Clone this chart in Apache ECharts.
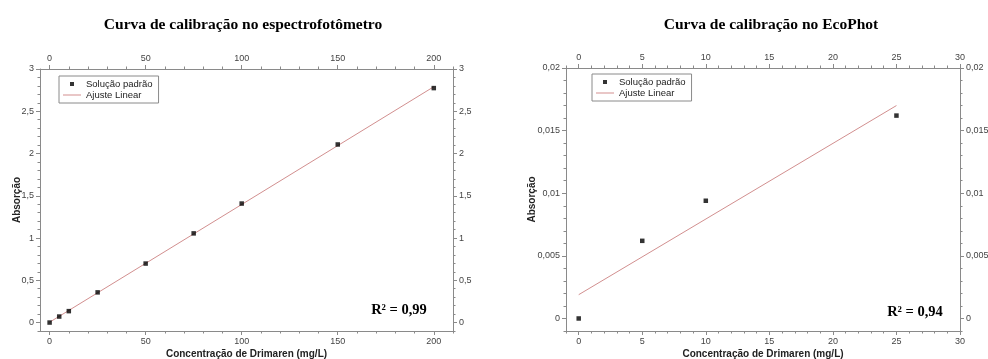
<!DOCTYPE html>
<html>
<head>
<meta charset="utf-8">
<script src="https://cdn.jsdelivr.net/npm/echarts@6/dist/echarts.min.js"></script>
<style>
  html, body { margin: 0; padding: 0; background: #fff; }
  #chart { width: 988px; height: 359px; }
</style>
</head>
<body>
<div id="chart"></div>
<script>
// Curva no espectrofotômetro
var specX = [0, 5, 10, 25, 50, 75, 100, 150, 200];
var specY = [0, 0.071, 0.135, 0.357, 0.698, 1.055, 1.408, 2.107, 2.774];
var specFit = [[0, 0.004], [200, 2.79]];
var specXTicks = [0, 50, 100, 150, 200];
var specYTicks = [0, 0.5, 1, 1.5, 2, 2.5, 3];

// Curva no EcoPhot
var ecoX = [0, 5, 10, 25];
var ecoY = [0, 0.0062, 0.0094, 0.0162];
var ecoFit = [[0, 0.0019], [25, 0.0170]];
var ecoXTicks = [0, 5, 10, 15, 20, 25, 30];
var ecoYTicks = [0, 0.005, 0.01, 0.015, 0.02];

var axisColor = "#8a8a8a";
var labelColor = "#444";
var sansFont = "Liberation Sans";

function stepTicks(from, to, step) {
  var out = [];
  var n = Math.round((to - from) / step);
  for (var i = 0; i <= n; i++) {
    out.push(Math.round((from + i * step) * 1e6) / 1e6);
  }
  return out;
}

function fmt(v) {
  return String(v).replace(".", ",");
}

// eixo com ticks principais e rótulos
function majorAxis(grid, pos, min, max, ticks, extra) {
  var ax = {
    type: "value",
    gridIndex: grid,
    position: pos,
    min: min,
    max: max,
    splitLine: { show: false },
    axisLine: { show: true, onZero: false, lineStyle: { color: axisColor, width: 1 } },
    axisTick: { show: true, inside: false, length: 4, customValues: ticks, lineStyle: { color: axisColor } },
    axisLabel: {
      customValues: ticks,
      formatter: fmt,
      color: labelColor,
      fontFamily: sansFont,
      fontSize: 9,
      margin: 6
    }
  };
  if (extra) Object.assign(ax, extra);
  return ax;
}

// eixo só com ticks menores
function minorAxis(grid, pos, min, max, ticks) {
  return {
    type: "value",
    gridIndex: grid,
    position: pos,
    min: min,
    max: max,
    splitLine: { show: false },
    axisLine: { show: false, onZero: false },
    axisLabel: { show: false },
    axisTick: { show: true, length: 2.5, customValues: ticks, lineStyle: { color: axisColor } }
  };
}

var nameStyle = { fontFamily: sansFont, fontWeight: "bold", fontSize: 10, color: "#222" };

var xAxes = [
  majorAxis(0, "bottom", -5, 210, specXTicks, {
    name: "Concentração de Drimaren (mg/L)", nameLocation: "middle", nameGap: 18,
    nameMoveOverlap: false, nameTextStyle: nameStyle
  }),
  majorAxis(0, "top", -5, 210, specXTicks),
  minorAxis(0, "bottom", -5, 210, stepTicks(10, 210, 10)),
  minorAxis(0, "top", -5, 210, stepTicks(10, 210, 10)),
  majorAxis(1, "bottom", -1, 30, ecoXTicks, {
    name: "Concentração de Drimaren (mg/L)", nameLocation: "middle", nameGap: 18,
    nameMoveOverlap: false, nameTextStyle: nameStyle
  }),
  majorAxis(1, "top", -1, 30, ecoXTicks),
  minorAxis(1, "bottom", -1, 30, stepTicks(-1, 30, 1)),
  minorAxis(1, "top", -1, 30, stepTicks(-1, 30, 1))
];

var yAxes = [
  majorAxis(0, "left", -0.1, 3, specYTicks, {
    name: "Absorção", nameLocation: "middle", nameGap: 18, nameRotate: 90,
    nameMoveOverlap: false, nameTextStyle: nameStyle
  }),
  majorAxis(0, "right", -0.1, 3, specYTicks),
  minorAxis(0, "left", -0.1, 3, stepTicks(-0.1, 3, 0.1)),
  minorAxis(0, "right", -0.1, 3, stepTicks(-0.1, 3, 0.1)),
  majorAxis(1, "left", -0.001, 0.02, ecoYTicks, {
    name: "Absorção", nameLocation: "middle", nameGap: 29, nameRotate: 90,
    nameMoveOverlap: false, nameTextStyle: nameStyle
  }),
  majorAxis(1, "right", -0.001, 0.02, ecoYTicks),
  minorAxis(1, "left", -0.001, 0.02, stepTicks(-0.001, 0.02, 0.001)),
  minorAxis(1, "right", -0.001, 0.02, stepTicks(-0.001, 0.02, 0.001))
];

function pairs(xs, ys) {
  var out = [];
  for (var i = 0; i < xs.length; i++) out.push([xs[i], ys[i]]);
  return out;
}

var pointStyle = { color: "#000" };
var fitStyle = { color: "#d28f8f", width: 1 };

var legendBase = {
  orient: "vertical",
  itemGap: 1,
  itemWidth: 18,
  itemHeight: 9,
  padding: [3, 6, 3, 4],
  borderColor: "#8a8a8a",
  borderWidth: 1,
  borderRadius: 0,
  backgroundColor: "#fff",
  textStyle: { fontFamily: sansFont, fontSize: 9.5, color: "#222", lineHeight: 9 },
  data: [
    { name: "Solução padrão", icon: "path://M0,0M18,9M7,2.5h4v4h-4z" },
    { name: "Ajuste Linear", icon: "path://M0,0M18,9M0,4h18v1h-18z" }
  ],
  selectedMode: false
};

var chart = echarts.init(document.getElementById("chart"), null, { renderer: "canvas" });

var option = {
  backgroundColor: "#fff",
  animation: false,
  grid: [
    { left: 40, top: 69, width: 413, height: 262, outerBoundsMode: "none", containLabel: false },
    { left: 566, top: 68, width: 394, height: 263, outerBoundsMode: "none", containLabel: false }
  ],
  legend: [
    Object.assign({}, legendBase, { left: 59, top: 76 }),
    Object.assign({}, legendBase, { left: 592, top: 74 })
  ],
  xAxis: xAxes,
  yAxis: yAxes,
  series: [
    {
      name: "Ajuste Linear", type: "line", xAxisIndex: 0, yAxisIndex: 0,
      data: specFit, symbol: "none", lineStyle: fitStyle, itemStyle: { color: fitStyle.color }, z: 2
    },
    {
      name: "Solução padrão", type: "scatter", xAxisIndex: 0, yAxisIndex: 0,
      data: pairs(specX, specY), symbol: "rect", symbolSize: 4.5, itemStyle: pointStyle, z: 3
    },
    {
      name: "Ajuste Linear", type: "line", xAxisIndex: 4, yAxisIndex: 4,
      data: ecoFit, symbol: "none", lineStyle: fitStyle, itemStyle: { color: fitStyle.color }, z: 2
    },
    {
      name: "Solução padrão", type: "scatter", xAxisIndex: 4, yAxisIndex: 4,
      data: pairs(ecoX, ecoY), symbol: "rect", symbolSize: 4.5, itemStyle: pointStyle, z: 3
    }
  ],
  graphic: [
    {
      type: "text", x: 243, y: 25,
      style: { text: "Curva de calibração no espectrofotômetro", font: 'bold 15.5px "Liberation Serif"', fill: "#000", align: "center", verticalAlign: "middle" }
    },
    {
      type: "text", x: 771, y: 25,
      style: { text: "Curva de calibração no EcoPhot", font: 'bold 15.5px "Liberation Serif"', fill: "#000", align: "center", verticalAlign: "middle" }
    },
    {
      type: "text", x: 399, y: 310,
      style: { text: "R² = 0,99", font: 'bold 14.5px "Liberation Serif"', fill: "#000", align: "center", verticalAlign: "middle" }
    },
    {
      type: "text", x: 915, y: 312,
      style: { text: "R² = 0,94", font: 'bold 14.5px "Liberation Serif"', fill: "#000", align: "center", verticalAlign: "middle" }
    }
  ]
};

chart.setOption(option);
window.addEventListener("resize", function () {
  chart.resize();
});
</script>
</body>
</html>
